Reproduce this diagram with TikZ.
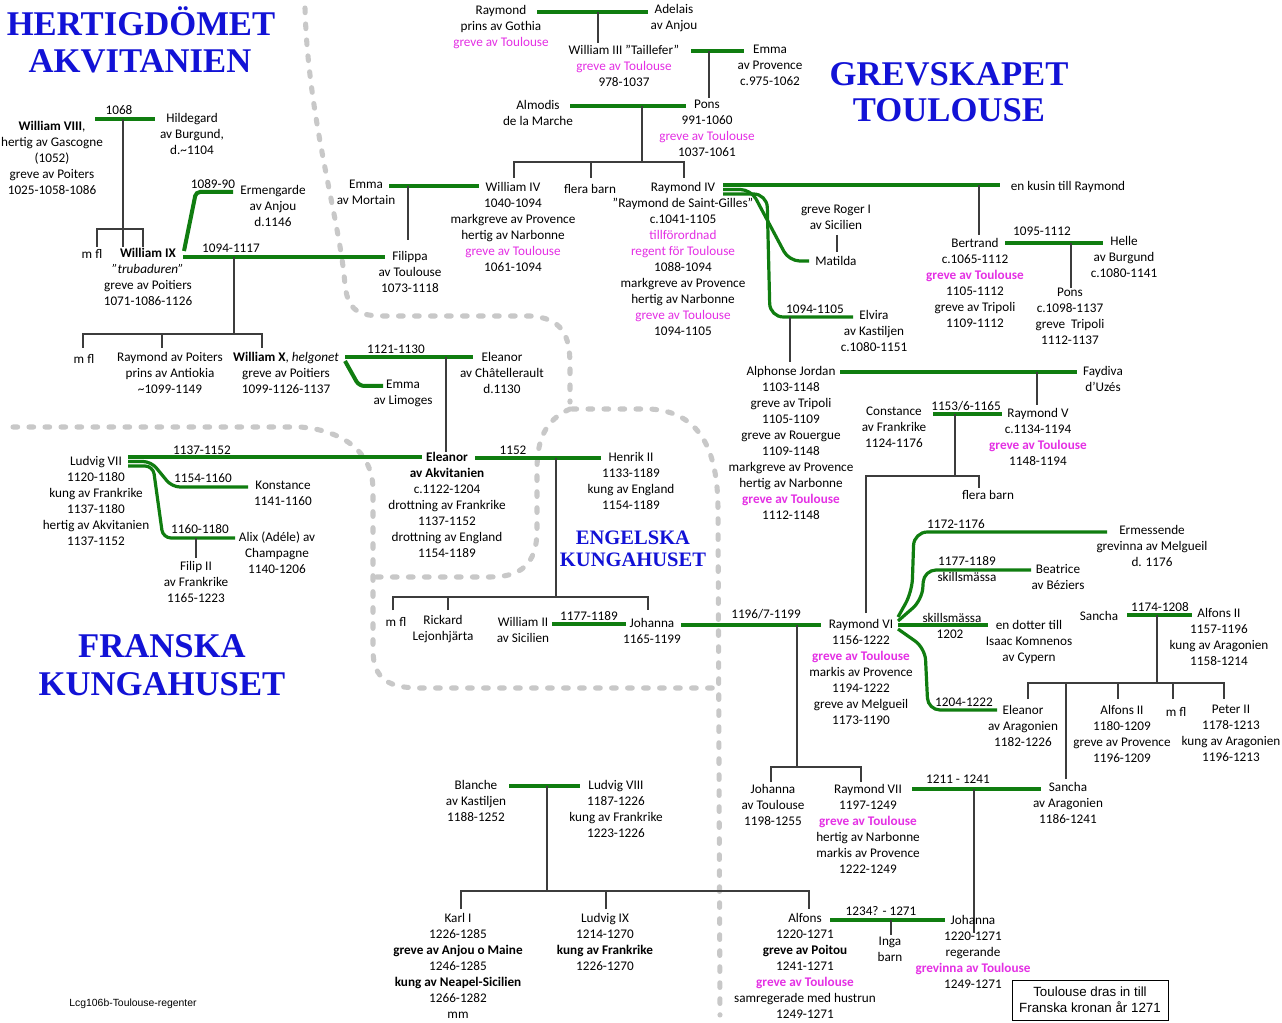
\documentclass[tikz,border=0pt]{standalone}
\usepackage{fontspec}
\setmainfont{Carlito}
\newfontfamily\hfont{Liberation Serif}
\newfontfamily\afont{Liberation Sans}
\definecolor{grn}{RGB}{16,125,16}
\definecolor{mag}{RGB}{228,48,228}
\definecolor{hblue}{RGB}{18,18,214}
\definecolor{dgray}{RGB}{200,200,200}
\definecolor{lgray}{RGB}{60,60,60}
\newcommand\mg[1]{\textcolor{mag}{#1}}
\newcommand\mgb[1]{\textcolor{mag}{\bfseries #1}}
\begin{document}
\begin{tikzpicture}[x=0.75pt,y=-0.75pt,
  t/.style={anchor=north,inner sep=0pt,align=center,yshift=4.5pt,
     font=\fontsize{9.9}{12}\selectfont,execute at begin node=\strut},
  hd/.style={anchor=base,inner sep=0pt,text=hblue,font=\hfont\bfseries\fontsize{26}{29}\selectfont},
  hds/.style={hd,font=\hfont\bfseries\fontsize{15.4}{16}\selectfont},
  gl/.style={draw=grn,line width=3pt},
  glt/.style={draw=grn,line width=2.4pt},
  bl/.style={draw=lgray,line width=0.8pt},
  dl/.style={draw=dgray,line width=3.8pt,line cap=round,dash pattern=on 3.5pt off 8.5pt}
]
\useasboundingbox (0,0) rectangle (1282,1023);
\fill[white] (0,0) rectangle (1282,1023);

% ---------- dashed region borders ----------
\draw[dl] (305,8) .. controls (308,120) and (340,220) .. (345,285)
  .. controls (348,312) and (360,316) .. (385,316) -- (530,316)
  .. controls (562,318) and (570,335) .. (570,365) -- (570,402);
\draw[dl] (572,409) -- (650,409) .. controls (700,412) and (718,450) .. (718,510) -- (720,1015);
\draw[dl] (570,409) .. controls (545,420) and (537,440) .. (537,470) -- (537,530)
  .. controls (537,565) and (520,577) .. (490,577) -- (373,577);
\draw[dl] (13,427) -- (300,427) .. controls (340,430) and (373,450) .. (373,490) -- (373,650)
  .. controls (373,680) and (390,688) .. (420,688) -- (720,688);

% ---------- coordinates ----------
\coordinate (g1a) at (537,12);  \coordinate (g1b) at (648,12);
\coordinate (g2a) at (691,51);  \coordinate (g2b) at (744,51);
\coordinate (g3a) at (570,106); \coordinate (g3b) at (686,106);
\coordinate (g4a) at (389,186); \coordinate (g4b) at (479,186);
\coordinate (g5a) at (183,257); \coordinate (g5b) at (385,257);
\coordinate (g6a) at (95,119);  \coordinate (g6b) at (155,119);
\coordinate (g7a) at (184,251); \coordinate (g7b) at (233,192);
\coordinate (g8a) at (345,357); \coordinate (g8b) at (473,357);
\coordinate (g9a) at (345,361); \coordinate (g9b) at (383,386);
\coordinate (l1a) at (128,457); \coordinate (l1b) at (422,457);
\coordinate (l2a) at (128,461.5); \coordinate (l2b) at (248,487);
\coordinate (l3a) at (128,466); \coordinate (l3b) at (235,538);
\coordinate (g11a) at (475,458); \coordinate (g11b) at (601,458);
\coordinate (g12a) at (552,624); \coordinate (g12b) at (626,624);
\coordinate (g13a) at (681,625); \coordinate (g13b) at (821,625);
\coordinate (r1a) at (723,185); \coordinate (r1b) at (1000,185);
\coordinate (r2a) at (723,189.5); \coordinate (r2b) at (809,261);
\coordinate (r3a) at (723,194); \coordinate (r3b) at (853,317);
\coordinate (g15a) at (1005,243); \coordinate (g15b) at (1103,243);
\coordinate (g16a) at (840,372); \coordinate (g16b) at (1077,372);
\coordinate (g17a) at (933,414); \coordinate (g17b) at (1002,414);
\coordinate (s1a) at (898,617); \coordinate (s1b) at (1107,532);
\coordinate (s2a) at (898,621); \coordinate (s2b) at (1031,570);
\coordinate (s3a) at (898,625); \coordinate (s3b) at (988,625);
\coordinate (s4a) at (898,629); \coordinate (s4b) at (997,710);
\coordinate (g19a) at (1127,615); \coordinate (g19b) at (1192,615);
\coordinate (g20a) at (912,789); \coordinate (g20b) at (1041,789);
\coordinate (g21a) at (830,920); \coordinate (g21b) at (945,920);
\coordinate (g22a) at (509,786); \coordinate (g22b) at (580,786);

% ---------- marriage lines ----------
\draw[gl] (g1a) -- (g1b);
\draw[gl] (g2a) -- (g2b);
\draw[gl] (g3a) -- (g3b);
\draw[gl] (g4a) -- (g4b);
\draw[gl] (g5a) -- (g5b);
\draw[gl] (g6a) -- (g6b);
\draw[gl,rounded corners=3pt] (g7a) -- (196,192) -- (g7b);
\draw[gl] (g8a) -- (g8b);
\draw[gl,rounded corners=4pt] (g9a) -- (359,386) -- (g9b);
\draw[glt] (l1a) -- (l1b);
\draw[glt,rounded corners=6pt] (l2a) -- (151,461.5) -- (172,487) -- (l2b);
\draw[glt,rounded corners=6pt] (l3a) -- (153,466) -- (163,538) -- (l3b);
\draw[gl] (g11a) -- (g11b);
\draw[gl] (g12a) -- (g12b);
\draw[gl] (g13a) -- (g13b);
\draw[glt] (r1a) -- (r1b);
\draw[glt,rounded corners=8pt] (r2a) -- (751,189.5) -- (789,261) -- (r2b);
\draw[glt,rounded corners=10pt] (r3a) -- (767,194) -- (770,317) -- (r3b);
\draw[gl] (g15a) -- (g15b);
\draw[gl] (g16a) -- (g16b);
\draw[gl] (g17a) -- (g17b);
\draw[glt,rounded corners=10pt] (s1a) -- (912,592) -- (914,532) -- (s1b);
\draw[glt,rounded corners=9pt] (s2a) -- (922,600) -- (924,570) -- (s2b);
\draw[glt] (s3a) -- (s3b);
\draw[glt,rounded corners=9pt] (s4a) -- (925,648) -- (928,710) -- (s4b);
\draw[gl] (g19a) -- (g19b);
\draw[gl] (g20a) -- (g20b);
\draw[gl] (g21a) -- (g21b);
\draw[gl] (g22a) -- (g22b);

% ---------- descent lines ----------
\coordinate (c1) at (598,12);   \coordinate (k1) at (598,43);
\coordinate (c2) at (709,51);   \coordinate (k2) at (709,98);
\coordinate (c3) at (642,106);  \coordinate (k3a) at (514,178); \coordinate (k3b) at (684,178); \coordinate (k3c) at (591,178);
\coordinate (c4) at (408,186);  \coordinate (k4) at (408,240);
\coordinate (c5) at (123,119);  \coordinate (k5a) at (97,247); \coordinate (k5b) at (143,247); \coordinate (k5c) at (123,247);
\coordinate (c6) at (234,257);  \coordinate (k6a) at (83,348); \coordinate (k6b) at (262,348); \coordinate (k6c) at (162,348);
\coordinate (c7) at (446,357);  \coordinate (k7) at (446,452);
\coordinate (c8) at (196,538);  \coordinate (k8) at (196,558);
\coordinate (c9) at (556,458);  \coordinate (k9a) at (393,610); \coordinate (k9b) at (648,610); \coordinate (k9c) at (448,610);
\coordinate (c10) at (979,185); \coordinate (k10) at (979,235);
\coordinate (c11) at (837,235); \coordinate (k11) at (837,252);
\coordinate (c12) at (1071,243); \coordinate (k12) at (1071,288);
\coordinate (c13) at (790,317); \coordinate (k13) at (790,362);
\coordinate (c14) at (1037,372); \coordinate (k14) at (1037,405);
\coordinate (c15) at (955,414); \coordinate (k15a) at (866,613); \coordinate (k15b) at (979,488);
\coordinate (c16) at (797,625); \coordinate (k16a) at (771,782); \coordinate (k16b) at (861,782);
\coordinate (c17) at (1157,615); \coordinate (k17a) at (1028,699); \coordinate (k17b) at (1224,699);
\coordinate (k17c) at (1118,699); \coordinate (k17d) at (1173,699); \coordinate (k17e) at (1066,779);
\coordinate (c18) at (974,789); \coordinate (k18) at (974,933);
\coordinate (c19) at (891,920); \coordinate (k19) at (891,935);
\coordinate (c20) at (547,786); \coordinate (k20a) at (461,909); \coordinate (k20b) at (809,909); \coordinate (k20c) at (606,909);

\draw[bl] (c1) -- (k1);
\draw[bl] (c2) -- (k2);
\draw[bl] (c3) -- ++(0,56); \draw[bl] (k3a) -- ++(0,-16) -| (k3b); \draw[bl] (k3c) -- ++(0,-16);
\draw[bl] (c4) -- (k4);
\draw[bl] (c5) -- (k5c); \draw[bl] (k5a) -- ++(0,-18) -| (k5b);
\draw[bl] (c6) -- ++(0,77); \draw[bl] (k6a) -- ++(0,-14) -| (k6b); \draw[bl] (k6c) -- ++(0,-14);
\draw[bl] (c7) -- (k7);
\draw[bl] (c8) -- (k8);
\draw[bl] (c9) -- ++(0,139); \draw[bl] (k9a) -- ++(0,-13) -| (k9b); \draw[bl] (k9c) -- ++(0,-13);
\draw[bl] (c10) -- (k10);
\draw[bl] (c11) -- (k11);
\draw[bl] (c12) -- (k12);
\draw[bl] (c13) -- (k13);
\draw[bl] (c14) -- (k14);
\draw[bl] (c15) -- ++(0,62); \draw[bl] (k15a) -- ++(0,-137) -| (k15b);
\draw[bl] (c16) -- ++(0,142); \draw[bl] (k16a) -- ++(0,-15) -| (k16b);
\draw[bl] (c17) -- ++(0,68); \draw[bl] (k17a) -- ++(0,-16) -| (k17b);
\draw[bl] (k17c) -- ++(0,-16); \draw[bl] (k17d) -- ++(0,-16); \draw[bl] (k17e) -- ++(0,-96);
\draw[bl] (c18) -- (k18);
\draw[bl] (c19) -- (k19);
\draw[bl] (c20) -- ++(0,105); \draw[bl] (k20a) -- ++(0,-18) -| (k20b); \draw[bl] (k20c) -- ++(0,-18);

% ---------- headings ----------
\node[hd] (h1a) at (141,35.5) {HERTIGDÖMET};
\node[hd] (h1b) at (140,73) {AKVITANIEN};
\node[hd] (h2a) at (949,85.5) {GREVSKAPET};
\node[hd] (h2b) at (949,121.5) {TOULOUSE};
\node[hd] (h3a) at (162,657) {FRANSKA};
\node[hd] (h3b) at (162,695) {KUNGAHUSET};
\node[hds] (h4a) at (633,544) {ENGELSKA};
\node[hds] (h4b) at (633,566) {KUNGAHUSET};

% ---------- persons ----------
\node[t] (raymond) at (501,11) {Raymond\\prins av Gothia\\\mg{greve av Toulouse}};
\node[t] (adelais) at (674,10) {Adelais\\av Anjou};
\node[t] (will3) at (624,51) {William III ”Taillefer”\\\mg{greve av Toulouse}\\978-1037};
\node[t] (emmaP) at (770,51) {Emma\\av Provence\\c.975-1062};
\node[t] (almodis) at (538,106) {Almodis\\de la Marche};
\node[t] (pons) at (707,106) {Pons\\991-1060\\\mg{greve av Toulouse}\\1037-1061};
\node[t] (will4) at (513,188) {William IV\\1040-1094\\markgreve av Provence\\hertig av Narbonne\\\mg{greve av Toulouse}\\1061-1094};
\node[t] (flera1) at (590,188) {flera barn};
\node[t] (ray4) at (683,188) {Raymond IV\\”Raymond de Saint-Gilles”\\c.1041-1105\\\mg{tillförordnad}\\\mg{regent för Toulouse}\\1088-1094\\markgreve av Provence\\hertig av Narbonne\\\mg{greve av Toulouse}\\1094-1105};
\node[t] (emmaM) at (366,186) {Emma\\av Mortain};
\node[t] (filippa) at (410,257) {Filippa\\av Toulouse\\1073-1118};
\node[t] (will8) at (52,127) {\textbf{William VIII},\\hertig av Gascogne\\(1052)\\greve av Poiters\\1025-1058-1086};
\node[t] (hild) at (192,119) {Hildegard\\av Burgund,\\d.\textasciitilde1104};
\node[t] (mfl1) at (92,253) {m fl};
\node[t] (will9) at (148,254) {\textbf{William IX}\\\textit{”trubaduren”}\\greve av Poitiers\\1071-1086-1126};
\node[t] (erm) at (273,191) {Ermengarde\\av Anjou\\d.1146};
\node[t] (mfl2) at (84,358) {m fl};
\node[t] (raypoit) at (170,358) {Raymond av Poiters\\prins av Antiokia\\\textasciitilde1099-1149};
\node[t] (will10) at (286,358) {\textbf{William X}, \textit{helgonet}\\greve av Poitiers\\1099-1126-1137};
\node[t] (emmaL) at (403,386) {Emma\\av Limoges};
\node[t] (eleC) at (502,358) {Eleanor\\av Châtellerault\\d.1130};
\node[t] (lud7) at (96,462) {Ludvig VII\\1120-1180\\kung av Frankrike\\1137-1180\\hertig av Akvitanien\\1137-1152};
\node[t] (konst) at (283,487) {Konstance\\1141-1160};
\node[t] (alix) at (277,538) {Alix (Adéle) av\\Champagne\\1140-1206};
\node[t] (filip) at (196,567) {Filip II\\av Frankrike\\1165-1223};
\node[t] (eleA) at (447,458) {\textbf{Eleanor}\\\textbf{av Akvitanien}\\c.1122-1204\\drottning av Frankrike\\1137-1152\\drottning av England\\1154-1189};
\node[t] (henrik) at (631,458) {Henrik II\\1133-1189\\kung av England\\1154-1189};
\node[t] (mfl3) at (396,621) {m fl};
\node[t] (rick) at (443,621) {Rickard\\Lejonhjärta};
\node[t] (will2) at (523,623) {William II\\av Sicilien};
\node[t] (joh1) at (652,624) {Johanna\\1165-1199};
\node[t] (kusin) at (1068,185) {en kusin till Raymond};
\node[t] (roger) at (836,211) {greve Roger I\\av Sicilien};
\node[t] (matilda) at (836,260) {Matilda};
\node[t] (elvira) at (874,316) {Elvira\\av Kastiljen\\c.1080-1151};
\node[t] (bert) at (975,244) {Bertrand\\c.1065-1112\\\mgb{greve av Toulouse}\\1105-1112\\greve av Tripoli\\1109-1112};
\node[t] (helle) at (1124,242) {Helle\\av Burgund\\c.1080-1141};
\node[t] (pons2) at (1070,294) {Pons\\c.1098-1137\\greve\ \ Tripoli\\1112-1137};
\node[t] (alph) at (791,372) {Alphonse Jordan\\1103-1148\\greve av Tripoli\\1105-1109\\greve av Rouergue\\1109-1148\\markgreve av Provence\\hertig av Narbonne\\\mgb{greve av Toulouse}\\1112-1148};
\node[t] (fayd) at (1103,372) {Faydiva\\d’Uzés};
\node[t] (const) at (894,413) {Constance\\av Frankrike\\1124-1176};
\node[t] (ray5) at (1038,414) {Raymond V\\c.1134-1194\\\mgb{greve av Toulouse}\\1148-1194};
\node[t] (flera2) at (988,494) {flera barn};
\node[t] (ray6) at (861,625) {Raymond VI\\1156-1222\\\mgb{greve av Toulouse}\\markis av Provence\\1194-1222\\greve av Melgueil\\1173-1190};
\node[t] (erme) at (1152,531) {Ermessende\\grevinna av Melgueil\\d. 1176};
\node[t] (beat) at (1058,570) {Beatrice\\av Béziers};
\node[t] (isaac) at (1029,626) {en dotter till\\Isaac Komnenos\\av Cypern};
\node[t] (eleAr) at (1023,711) {Eleanor\\av Aragonien\\1182-1226};
\node[t] (sancha1) at (1099,615) {Sancha};
\node[t] (alf2a) at (1219,614) {Alfons II\\1157-1196\\kung av Aragonien\\1158-1214};
\node[t] (alf2b) at (1122,711) {Alfons II\\1180-1209\\greve av Provence\\1196-1209};
\node[t] (mfl4) at (1176,711) {m fl};
\node[t] (peter) at (1231,711) {Peter II\\1178-1213\\kung av Aragonien\\1196-1213};
\node[t] (sancha2) at (1068,788) {Sancha\\av Aragonien\\1186-1241};
\node[t] (joh2) at (773,790) {Johanna\\av Toulouse\\1198-1255};
\node[t] (ray7) at (868,790) {Raymond VII\\1197-1249\\\mgb{greve av Toulouse}\\hertig av Narbonne\\markis av Provence\\1222-1249};
\node[t] (alfons) at (805,919) {Alfons\\1220-1271\\\textbf{greve av Poitou}\\1241-1271\\\mgb{greve av Toulouse}\\samregerade med hustrun\\1249-1271};
\node[t] (inga) at (890,943) {Inga\\barn};
\node[t] (joh3) at (973,921) {Johanna\\1220-1271\\regerande\\\mgb{grevinna av Toulouse}\\1249-1271};
\node[t] (blanche) at (476,786) {Blanche\\av Kastiljen\\1188-1252};
\node[t] (lud8) at (616,786) {Ludvig VIII\\1187-1226\\kung av Frankrike\\1223-1226};
\node[t] (karl) at (458,919) {Karl I\\1226-1285\\\textbf{greve av Anjou o Maine}\\1246-1285\\\textbf{kung av Neapel-Sicilien}\\1266-1282\\mm};
\node[t] (lud9) at (605,919) {Ludvig IX\\1214-1270\\\textbf{kung av Frankrike}\\1226-1270};

% ---------- marriage labels ----------
\node[t] (y1) at (119,109) {1068};
\node[t] (y2) at (213,183) {1089-90};
\node[t] (y3) at (231,247) {1094-1117};
\node[t] (y4) at (396,348) {1121-1130};
\node[t] (y5) at (202,449) {1137-1152};
\node[t] (y6) at (203,477) {1154-1160};
\node[t] (y7) at (200,528) {1160-1180};
\node[t] (y8) at (513,449) {1152};
\node[t] (y9) at (589,615) {1177-1189};
\node[t] (y10) at (766,613) {1196/7-1199};
\node[t] (y11) at (815,308) {1094-1105};
\node[t] (y12) at (1042,230) {1095-1112};
\node[t] (y13) at (966,405) {1153/6-1165};
\node[t] (y14) at (956,523) {1172-1176};
\node[t] (y15) at (967,562) {1177-1189\\skillsmässa};
\node[t] (y16) at (952,617) {skillsmässa};
\node[t] (y17) at (950,633) {1202};
\node[t] (y18) at (964,701) {1204-1222};
\node[t] (y19) at (1160,606) {1174-1208};
\node[t] (y20) at (958,778) {1211 - 1241};
\node[t] (y21) at (881,910) {1234? - 1271};

% ---------- notes ----------
\node (box) [draw=black,line width=0.7pt,inner sep=0pt,minimum width=117pt,minimum height=30pt,
  align=center,font=\afont\fontsize{10}{12}\selectfont] at (1090,1000)
  {Toulouse dras in till\\Franska kronan år 1271};
\node (lcg) [anchor=base,inner sep=0pt,font=\afont\fontsize{7.8}{10}\selectfont] at (133,1006)
  {Lcg106b-Toulouse-regenter};
\end{tikzpicture}
\end{document}
